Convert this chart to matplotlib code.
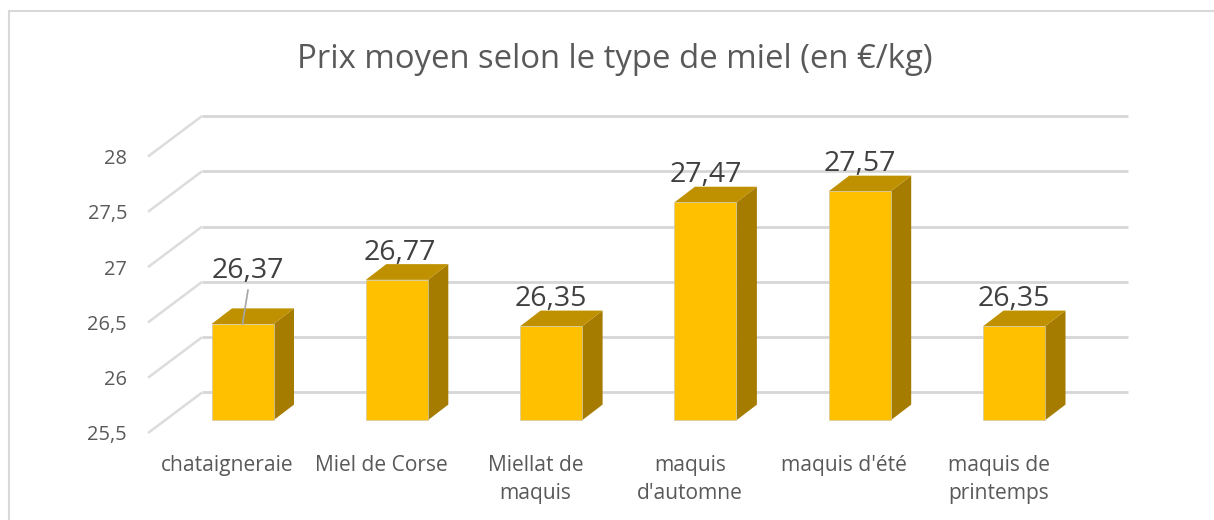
#!/usr/bin/env python3

# Fake 3D column chart (Excel style) of honey prices, drawn on a flat axes.

import matplotlib
matplotlib.use('Agg')
import matplotlib.pyplot as plt

categories = ['chataigneraie', 'Miel de Corse', 'Miellat de\nmaquis',
              "maquis\nd'automne", "maquis d'été", 'maquis de\nprintemps']
prices = [26.37, 26.77, 26.35, 27.47, 27.57, 26.35]
price_labels = ['26,37', '26,77', '26,35', '27,47', '27,57', '26,35']
ticks = [25.5, 26, 26.5, 27, 27.5, 28]
tick_labels = ['25,5', '26', '26,5', '27', '27,5', '28']

# pixel scale of the front plane
PX_X = 154.3
PX_Y = 110.6
BASE = ticks[0]

W, H = 1214, 520
X0_PX = 242.5    # centre of first bar
BASE_PX = 420.3  # y of the base value at the front of the bars


def dx(px):
    return px / PX_X


def dy(px):
    return px / PX_Y


fig = plt.figure(figsize=(W / 100, H / 100), dpi=100)
ax = fig.add_axes([0, 0, 1, 1])
ax.set_xlim(-X0_PX / PX_X, (W - X0_PX) / PX_X)
ax.set_ylim(BASE - (H - BASE_PX) / PX_Y, BASE + BASE_PX / PX_Y)
ax.axis('off')

# chart frame: only the top and left edges fall inside the picture
ax.plot([9 / W, 9 / W, 1], [0, 1 - 10.5 / H, 1 - 10.5 / H],
        transform=ax.transAxes, color='#d9d9d9', lw=1.5,
        solid_joinstyle='miter')

ax.text(614.5 / W, 1 - 60 / H, 'Prix moyen selon le type de miel (en €/kg)',
        transform=ax.transAxes, ha='center', va='center',
        fontsize=23.7, color='#595959', family='Open Sans')

# grid: slanted part on the floor side, straight part along the back wall
left = -0.5 - dx(17.3)
corner = -0.5 + dx(36.7)
right = -0.5 + dx(962.7)
for t, lab in zip(ticks, tick_labels):
    ax.plot([left, corner], [t - dy(12.7), t + dy(27.8)], color='#dcdcdc',
            lw=1.8, solid_capstyle='butt', zorder=1)
    ax.plot([corner, right], [t + dy(27.8)] * 2, color='#d6d6d6',
            lw=2.0, solid_capstyle='butt', zorder=1)
    ax.text(left - dx(21), t - dy(15.2), lab, ha='right', va='center',
            fontsize=14.4, color='#595959', family='Open Sans')

# bars
bar_w = 62 / PX_X
depth_x = dx(20.5)
depth_y = dy(15.7)
xs = list(range(len(prices)))
heights = [p - BASE for p in prices]
ax.bar(xs, heights, bottom=BASE, width=bar_w, color='#ffc000',
       edgecolor='#d0c8a8', linewidth=0.5, zorder=3)
for x, p in zip(xs, prices):
    l, r = x - bar_w / 2, x + bar_w / 2
    ax.fill([r, r + depth_x, r + depth_x, r],
            [BASE, BASE + depth_y, p + depth_y, p],
            color='#a67c00', lw=0, zorder=2)
    ax.fill([l, l + depth_x, r + depth_x, r],
            [p, p + depth_y, p + depth_y, p],
            color='#bf9000', lw=0, zorder=2)

# data labels, the first one was dragged away in the original and has a leader
for x, p, lab in zip(xs, prices, price_labels):
    up = 53 if x == 0 else 27
    shift = {0: 5, 1: 3.5}.get(x, 0)
    ax.text(x + dx(shift), p + dy(up), lab, ha='center', va='center',
            fontsize=20.5, color='#404040', family='Open Sans', zorder=5)
ax.plot([xs[0], xs[0] + dx(5.5)], [prices[0], prices[0] + dy(34)],
        color='#a6a6a6', lw=1.2, zorder=4)

# category labels
for x, lab in zip(xs, categories):
    ax.text(x - dx(15.5), BASE - dy(35), lab, ha='center', va='top',
            fontsize=15.1, color='#595959', family='Open Sans', linespacing=1.45)

fig.savefig('out.png', dpi=100)
